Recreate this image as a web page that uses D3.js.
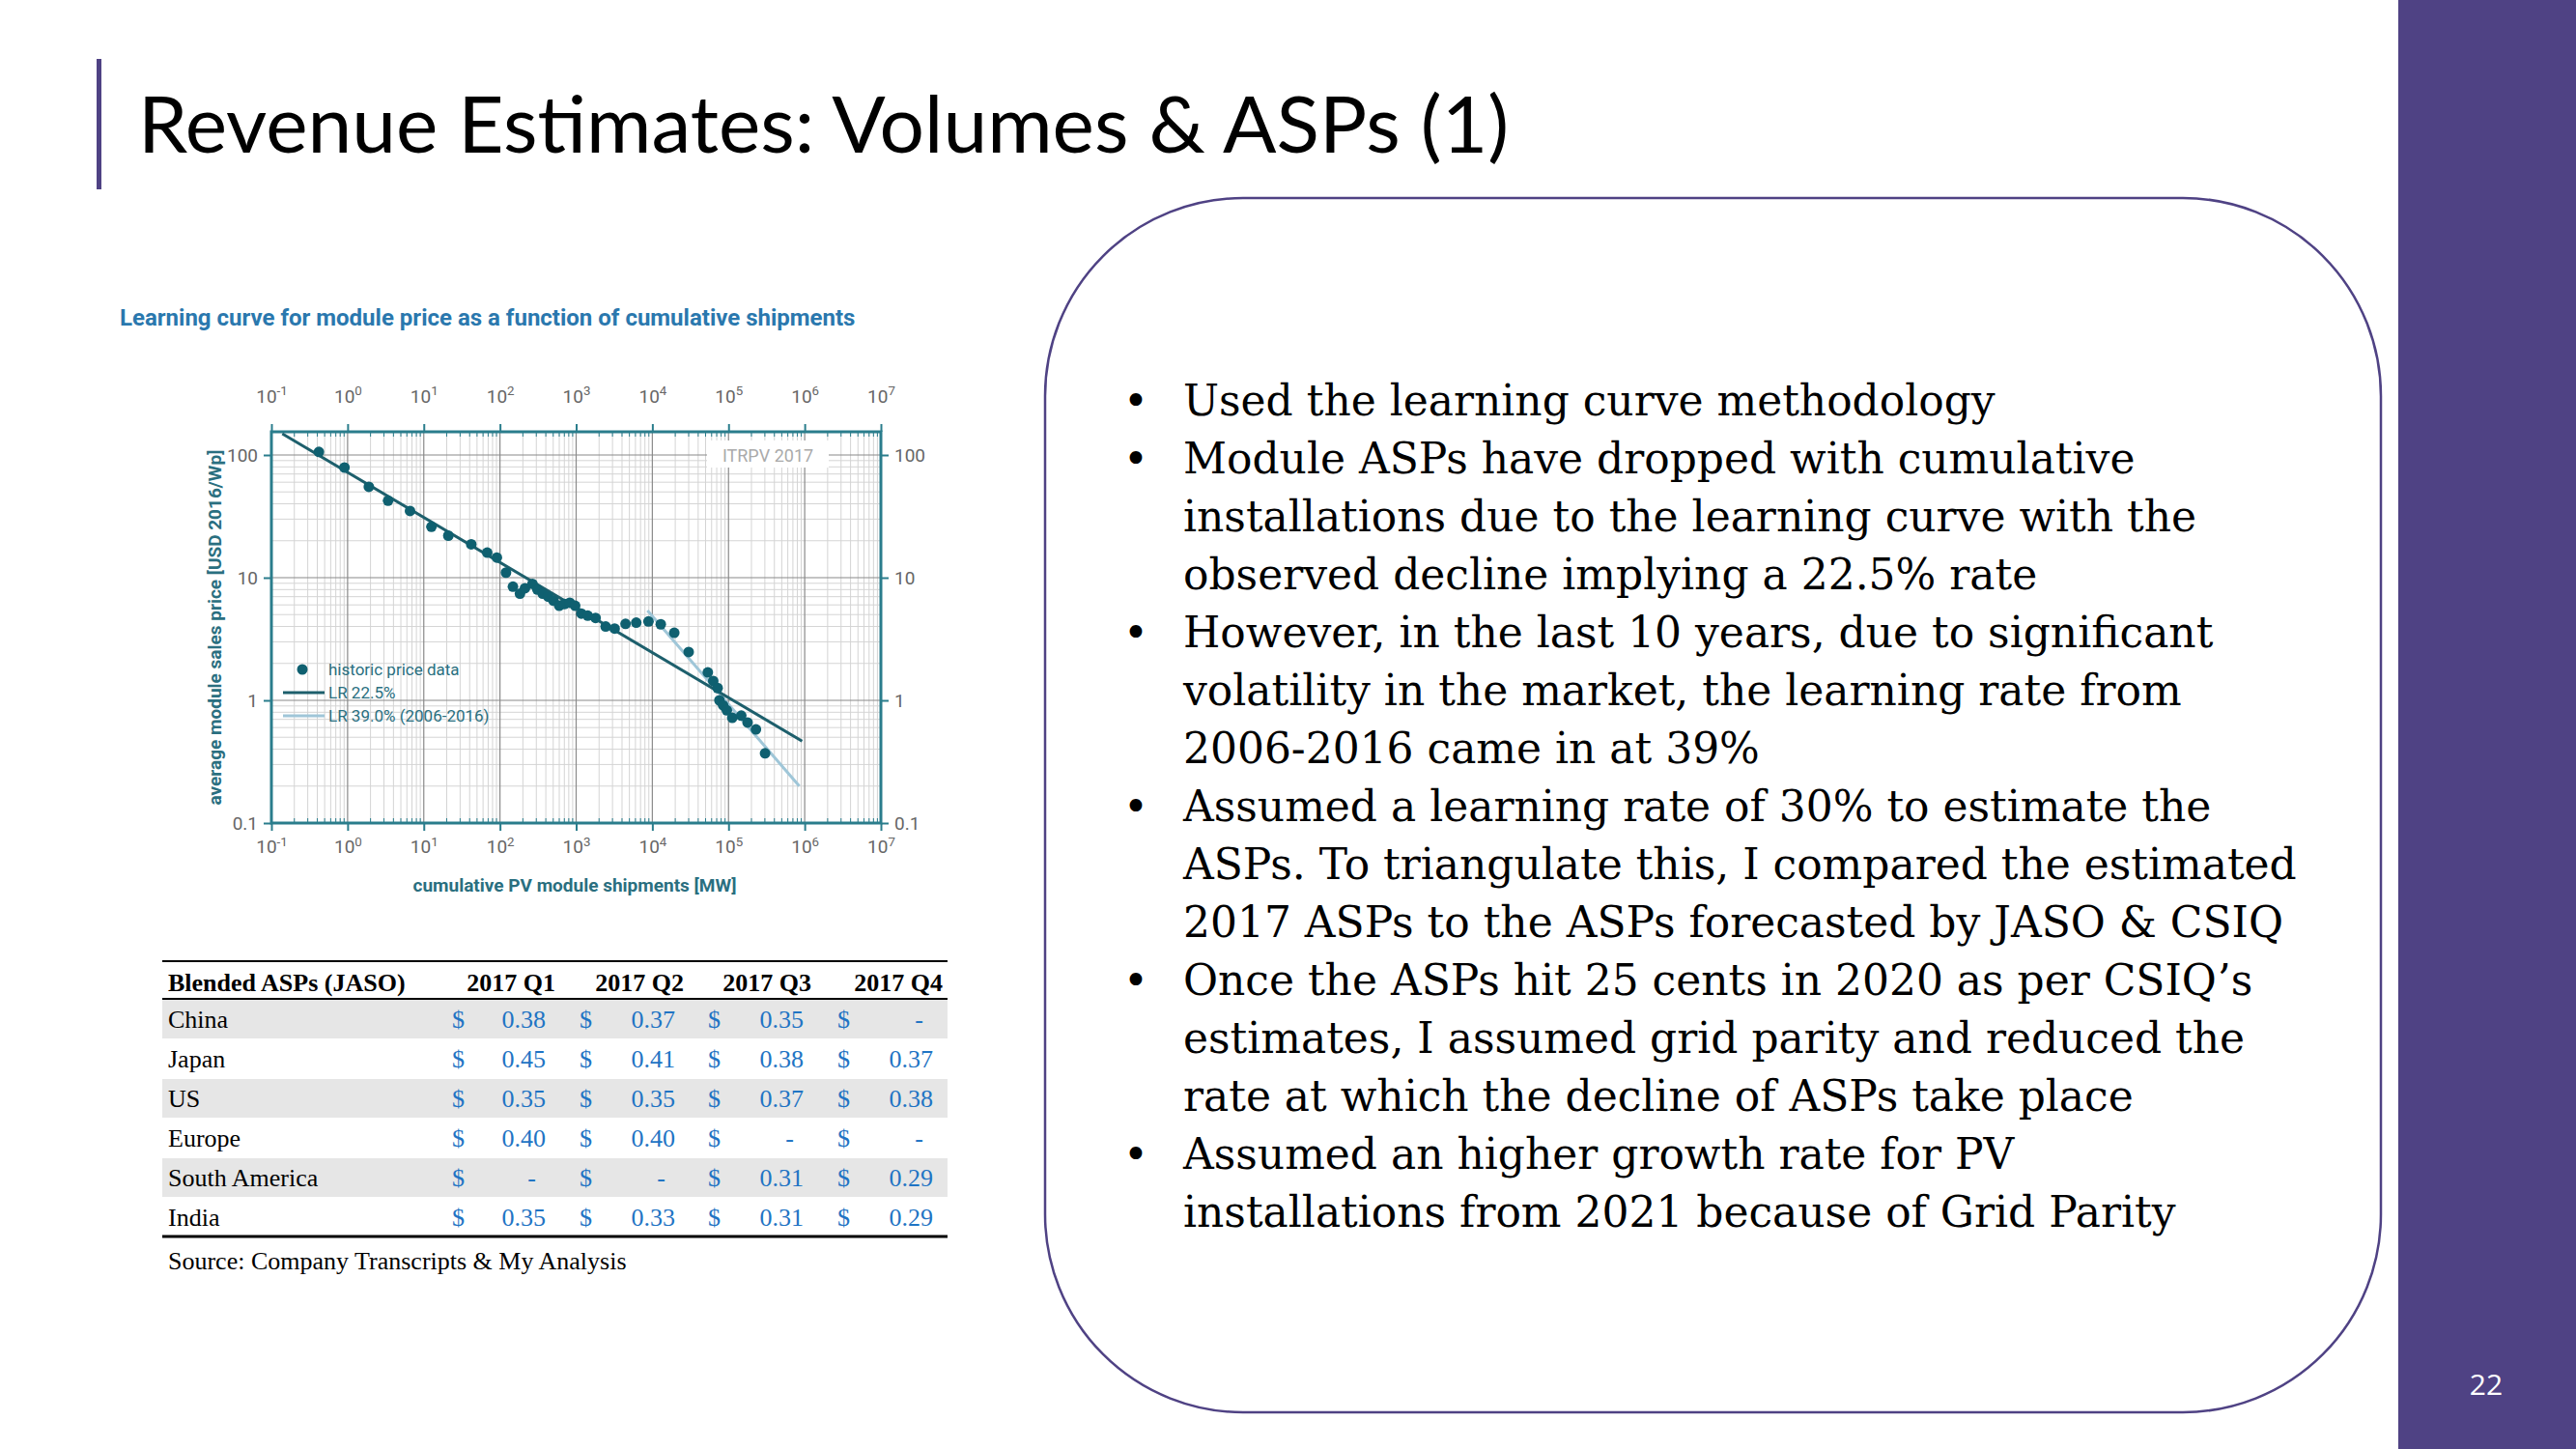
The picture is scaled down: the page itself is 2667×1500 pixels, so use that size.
<!DOCTYPE html>
<html><head><meta charset="utf-8">
<script src="https://cdn.jsdelivr.net/npm/d3@7"></script>
<style>body{margin:0;background:#fff}svg{display:block}</style>
</head><body>
<svg id="s" width="2667" height="1500"></svg>
<script>
// ---- data ----
const shipmentsMW = [0.42,0.91,1.9,3.4,6.6,12.6,21,42,68,91,120,148,183,213,267,310,364,430,505,600,700,825,970,1170,1420,1800,2440,3200,4450,6150,8900,12900,19400,30000,53500,63000,72000,76000,85000,95000,112000,147000,178000,229000,302000];
const priceUSD = [106,79,55,42.4,35,26,22,18.7,16,14.6,11,8.45,7.4,8.2,8.9,8.0,7.4,7.0,6.5,5.9,6.1,6.25,5.9,5.1,4.9,4.7,4.0,3.85,4.2,4.3,4.4,4.17,3.55,2.48,1.69,1.44,1.26,1.0,0.91,0.83,0.72,0.75,0.66,0.58,0.37];
const lr225 = [[0.139,149],[925000,0.465]];
const lr390 = [[8630,5.4],[850000,0.20]];
const xTickExps = [-1,0,1,2,3,4,5,6,7];
const yTicks = [0.1,1,10,100];
const tableRegions = ["China","Japan","US","Europe","South America","India"];
const tableQuarters = ["2017 Q1","2017 Q2","2017 Q3","2017 Q4"];
const tableValues = [
  ["0.38","0.37","0.35","-"],
  ["0.45","0.41","0.38","0.37"],
  ["0.35","0.35","0.37","0.38"],
  ["0.40","0.40","-","-"],
  ["-","-","0.31","0.29"],
  ["0.35","0.33","0.31","0.29"]];
const bullets = [
 ["Used the learning curve methodology"],
 ["Module ASPs have dropped with cumulative","installations due to the learning curve with the","observed decline implying a 22.5% rate"],
 ["However, in the last 10 years, due to significant","volatility in the market, the learning rate from","2006-2016 came in at 39%"],
 ["Assumed a learning rate of 30% to estimate the","ASPs. To triangulate this, I compared the estimated","2017 ASPs to the ASPs forecasted by JASO & CSIQ"],
 ["Once the ASPs hit 25 cents in 2020 as per CSIQ’s","estimates, I assumed grid parity and reduced the","rate at which the decline of ASPs take place"],
 ["Assumed an higher growth rate for PV","installations from 2021 because of Grid Parity"]];

const svg = d3.select("#s");
const purple = "#4f4284";
// side band
svg.append("rect").attr("x",2483).attr("y",0).attr("width",184).attr("height",1500).attr("fill",purple);
svg.append("text").attr("x",2574).attr("y",1444).attr("text-anchor","middle").attr("fill","#fff")
  .attr("font-family","Open Sans, sans-serif").attr("font-size",30).text("22");
// title
svg.append("rect").attr("x",100).attr("y",61).attr("width",5).attr("height",135).attr("fill",purple);
svg.append("text").attr("x",143).attr("y",158).attr("font-family","Lato, 'Open Sans', sans-serif")
  .attr("font-size",82).attr("fill","#000").text("Revenue Estimates: Volumes & ASPs (1)");
// rounded box
svg.append("rect").attr("x",1082).attr("y",205).attr("width",1383).attr("height",1257).attr("rx",205).attr("ry",205)
  .attr("fill","none").attr("stroke",purple).attr("stroke-width",2.5);
// bullets
let ly = 430;
const bt = svg.append("g").attr("font-family","'DejaVu Serif', serif").attr("font-size",44).attr("fill","#000");
bullets.forEach(b=>{
  bt.append("text").attr("x",1163).attr("y",ly).text("•");
  b.forEach((l,i)=>{ bt.append("text").attr("x",1225).attr("y",ly+i*60).attr("textLength",null).text(l); });
  ly += b.length*60;
});
// fit bullet text width
const maxW = 1153; let mw=0;
bt.selectAll("text").each(function(){mw=Math.max(mw,this.getComputedTextLength());});
if(mw>0){ const f=44*maxW/mw; bt.attr("font-size",f); }

// chart title
svg.append("text").attr("x",124).attr("y",337).attr("font-family","Roboto, sans-serif").attr("font-weight","bold")
  .attr("font-size",24).attr("fill","#2a78ae").text("Learning curve for module price as a function of cumulative shipments");

// plot
const X0=281, X1=912, Ytop=447, Ybot=852;
const x = d3.scaleLog().domain([0.1,1e7]).range([X0,X1]);
const y = d3.scaleLog().domain([0.1,0.1*Math.pow(10,(Ybot-Ytop)/((Ybot-471)/3))]).range([Ybot,Ytop]);
const g = svg.append("g");
// minor grid
const xMinor=[],yMinor=[];
for(let e=-1;e<7;e++) for(let k=2;k<10;k++) xMinor.push(k*Math.pow(10,e));
for(let e=-1;e<3;e++) for(let k=2;k<10;k++){const v=k*Math.pow(10,e); if(v<y.domain()[1]) yMinor.push(v);}
g.selectAll(".xm").data(xMinor).join("line").attr("x1",d=>x(d)).attr("x2",d=>x(d)).attr("y1",Ytop).attr("y2",Ybot).attr("stroke","#d4d4d4").attr("stroke-width",1);
g.selectAll(".ym").data(yMinor).join("line").attr("y1",d=>y(d)).attr("y2",d=>y(d)).attr("x1",X0).attr("x2",X1).attr("stroke","#d4d4d4").attr("stroke-width",1);
g.selectAll(".xM").data(xTickExps).join("line").attr("x1",d=>x(Math.pow(10,d))).attr("x2",d=>x(Math.pow(10,d))).attr("y1",Ytop).attr("y2",Ybot).attr("stroke","#8a8a8a").attr("stroke-width",1.2);
g.selectAll(".yM").data(yTicks).join("line").attr("y1",d=>y(d)).attr("y2",d=>y(d)).attr("x1",X0).attr("x2",X1).attr("stroke","#8a8a8a").attr("stroke-width",1.2);
// ITRPV label
g.append("rect").attr("x",732).attr("y",456).attr("width",126).attr("height",28).attr("fill","#fff");
g.append("text").attr("x",795).attr("y",478).attr("text-anchor","middle").attr("font-family","Roboto, sans-serif").attr("font-size",18).attr("fill","#aaa").text("ITRPV 2017");
// frame & axes
const teal="#2a7d8c";
const supFmt = (sel)=>{ sel.selectAll(".tick text").each(function(d){ const e=Math.round(Math.log10(d)); const t=d3.select(this); t.text(""); t.append("tspan").text("10"); t.append("tspan").attr("dy","-0.6em").attr("font-size","0.7em").text(e); }); };
const xs = xTickExps.map(e=>Math.pow(10,e));
const axCommon = a=>a.tickSizeInner(8).tickSizeOuter(0);
const bottom = g.append("g").attr("transform",`translate(0,${Ybot})`).call(axCommon(d3.axisBottom(x).tickValues(xs).tickPadding(10)));
const top_ = g.append("g").attr("transform",`translate(0,${Ytop})`).call(axCommon(d3.axisTop(x).tickValues(xs).tickPadding(22)));
[bottom,top_].forEach(a=>{supFmt(a);});
const yl = g.append("g").attr("transform",`translate(${X0},0)`).call(axCommon(d3.axisLeft(y).tickValues(yTicks).tickFormat(d3.format("~g")).tickPadding(6)));
const yr = g.append("g").attr("transform",`translate(${X1},0)`).call(axCommon(d3.axisRight(y).tickValues(yTicks).tickFormat(d3.format("~g")).tickPadding(6)));
// minor ticks on frame
[[xMinor,"x"]].forEach(()=>{
  g.selectAll(".mtb").data(xMinor).join("line").attr("x1",d=>x(d)).attr("x2",d=>x(d)).attr("y1",Ybot).attr("y2",Ybot-5).attr("stroke",teal);
  g.selectAll(".mtt").data(xMinor).join("line").attr("x1",d=>x(d)).attr("x2",d=>x(d)).attr("y1",Ytop).attr("y2",Ytop+5).attr("stroke",teal);
});
[bottom,top_,yl,yr].forEach(a=>{
  a.selectAll("path.domain").remove();
  a.selectAll(".tick line").attr("stroke",teal).attr("stroke-width",2);
  a.selectAll(".tick text").attr("font-family","Roboto, sans-serif").attr("font-size",19).attr("fill","#666");
});
g.append("rect").attr("x",X0).attr("y",Ytop).attr("width",X1-X0).attr("height",Ybot-Ytop).attr("fill","none").attr("stroke",teal).attr("stroke-width",3);
// axis titles
svg.append("text").attr("transform",`translate(229,${(Ytop+Ybot)/2}) rotate(-90)`).attr("text-anchor","middle")
 .attr("font-family","Roboto, sans-serif").attr("font-weight","bold").attr("font-size",19).attr("fill","#2a6f80").text("average module sales price [USD 2016/Wp]");
svg.append("text").attr("x",595).attr("y",923).attr("text-anchor","middle")
 .attr("font-family","Roboto, sans-serif").attr("font-weight","bold").attr("font-size",19).attr("fill","#2a6f80").text("cumulative PV module shipments [MW]");
// lines
const lineGen = d3.line().x(d=>x(d[0])).y(d=>y(d[1]));
g.append("path").attr("d",lineGen(lr390)).attr("stroke","#9fc6d8").attr("stroke-width",3).attr("fill","none");
g.append("path").attr("d",lineGen(lr225)).attr("stroke","#1d5f6c").attr("stroke-width",3).attr("fill","none");
// points
g.selectAll("circle.p").data(shipmentsMW.map((v,i)=>[v,priceUSD[i]])).join("circle")
 .attr("cx",d=>x(d[0])).attr("cy",d=>y(d[1])).attr("r",5.5).attr("fill","#0f6070");
// legend
const lg = g.append("g").attr("font-family","Roboto, sans-serif").attr("font-size",17).attr("fill","#2a6f80");
lg.append("circle").attr("cx",313).attr("cy",693).attr("r",5.5).attr("fill","#0f6070");
lg.append("text").attr("x",340).attr("y",699).text("historic price data");
lg.append("line").attr("x1",293).attr("x2",336).attr("y1",717).attr("y2",717).attr("stroke","#1d5f6c").attr("stroke-width",3);
lg.append("text").attr("x",340).attr("y",723).text("LR 22.5%");
lg.append("line").attr("x1",293).attr("x2",336).attr("y1",741).attr("y2",741).attr("stroke","#9fc6d8").attr("stroke-width",3);
lg.append("text").attr("x",340).attr("y",747).text("LR 39.0% (2006-2016)");

// table
const T = svg.append("g").attr("font-family","'Liberation Serif', serif").attr("font-size",26);
const rowH = 41, tx0=168, tx1=981, headY=1017;
const dollarX=[468,600,733,867], valR=[565,699,832,966], headR=[575,708,840,976];
tableRegions.forEach((r,i)=>{
  const cy = 1034 + i*rowH;
  if(i%2===0) T.append("rect").attr("x",tx0).attr("y",cy+1).attr("width",tx1-tx0).attr("height",rowH-1).attr("fill","#e6e6e6");
  T.append("text").attr("x",174).attr("y",cy+30).attr("fill","#000").text(r);
  tableValues[i].forEach((v,j)=>{
    T.append("text").attr("x",dollarX[j]).attr("y",cy+30).attr("fill","#1f74c4").text("$");
    T.append("text").attr("x",v==="-"?valR[j]-10:valR[j]).attr("y",cy+30).attr("text-anchor","end").attr("fill","#1f74c4").text(v);
  });
});
T.append("line").attr("x1",tx0).attr("x2",tx1).attr("y1",995).attr("y2",995).attr("stroke","#000").attr("stroke-width",2);
T.append("line").attr("x1",tx0).attr("x2",tx1).attr("y1",1034).attr("y2",1034).attr("stroke","#000").attr("stroke-width",2);
T.append("line").attr("x1",tx0).attr("x2",tx1).attr("y1",1034+6*rowH).attr("y2",1034+6*rowH).attr("stroke","#000").attr("stroke-width",3);
T.append("text").attr("x",174).attr("y",headY+9).attr("font-weight","bold").text("Blended ASPs (JASO)");
tableQuarters.forEach((q,j)=>T.append("text").attr("x",headR[j]).attr("y",headY+9).attr("text-anchor","end").attr("font-weight","bold").text(q));
T.append("text").attr("x",174).attr("y",1314).text("Source: Company Transcripts & My Analysis");
</script>
</body></html>
